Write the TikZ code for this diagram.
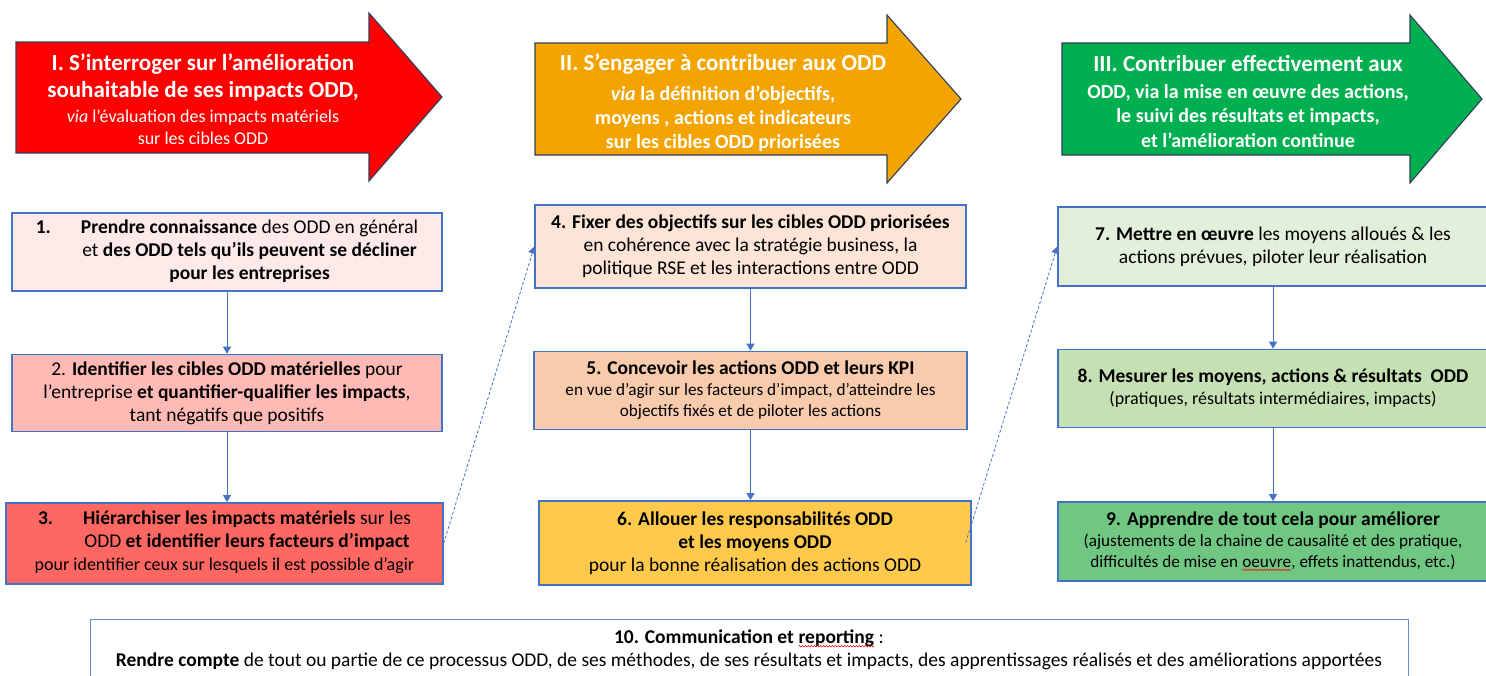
\documentclass[tikz,border=0pt]{standalone}
\usepackage{fontspec}
\setmainfont{Carlito}
\usepackage{tikz}
\usetikzlibrary{arrows.meta, positioning, decorations.pathmorphing}
\definecolor{colBlue}{RGB}{68,114,196}
\definecolor{colEdge}{RGB}{47,62,92}
\definecolor{colRed}{RGB}{255,0,0}
\definecolor{colOrange}{RGB}{243,164,0}
\definecolor{colGreen}{RGB}{0,176,80}
\definecolor{colStepA}{RGB}{253,233,232}
\definecolor{colStepB}{RGB}{255,186,181}
\definecolor{colStepC}{RGB}{255,104,98}
\definecolor{colStepD}{RGB}{252,228,214}
\definecolor{colStepE}{RGB}{248,203,173}
\definecolor{colStepF}{RGB}{255,202,76}
\definecolor{colStepG}{RGB}{226,239,218}
\definecolor{colStepH}{RGB}{197,224,179}
\definecolor{colStepI}{RGB}{111,199,130}
\newcommand\spellmark[1]{\tikz[baseline=(w.base)]{\node[inner sep=0pt, outer sep=0pt,
  minimum width=0pt, minimum height=0pt, draw=none, fill=none] (w) {#1};
  \draw[red, line width=0.5pt, decorate, decoration={snake, amplitude=0.8pt, segment length=3pt}]
  ([yshift=-2.5pt]w.base west) -- ([yshift=-2.5pt]w.base east);}}

\begin{document}
\begin{tikzpicture}[
  x=1pt, y=-1pt,
  box/.style={rectangle, draw=colBlue, line width=1.4pt, minimum width=430pt,
              minimum height=79pt, inner sep=0pt, align=center,
              font=\fontsize{19.5}{23}\selectfont},
  small/.style={font=\fontsize{17.2}{21}\selectfont},
  phase/.style={draw=colEdge, line width=1.1pt},
  phasetxt/.style={text=white, align=center, inner sep=0pt},
  arr/.style={-{Triangle[width=8pt,length=7pt]}, colBlue, line width=0.9pt},
  jump/.style={arr, dash pattern=on 3pt off 2pt, line width=0.8pt},
]
\useasboundingbox (0,0) rectangle (1486,675);
\clip (0,0) rectangle (1486,675);

% Phase arrows
\filldraw[phase, fill=colRed] (16,42) -- (369,42) -- (369,13) -- (442,97)
  -- (369,181) -- (369,153) -- (16,153) -- cycle;
\filldraw[phase, fill=colOrange] (535,43) -- (887,43) -- (887,15) -- (961,99)
  -- (887,183) -- (887,155) -- (535,155) -- cycle;
\filldraw[phase, fill=colGreen] (1062,43) -- (1410,43) -- (1410,15) -- (1482,99)
  -- (1410,183) -- (1410,155) -- (1062,155) -- cycle;

\node[phasetxt, font=\fontsize{18}{22}\selectfont] (phaseI) at (203,99)
  {{\fontsize{23}{22}\selectfont\bfseries I. S'interroger sur l'amélioration}\\[5pt]
   {\fontsize{23}{22}\selectfont\bfseries souhaitable de ses impacts ODD,}\\[3pt]
   \textit{via} l'évaluation des impacts matériels\\
   sur les cibles ODD};
\node[phasetxt, font=\fontsize{20}{24}\selectfont\bfseries] (phaseII) at (723,103)
  {{\fontsize{23}{24}\selectfont II. S'engager à contribuer aux ODD}\\[6pt]
   \textit{via} la définition d'objectifs,\\
   moyens , actions et indicateurs\\
   sur les cibles ODD priorisées};
\node[phasetxt, font=\fontsize{20}{24.5}\selectfont\bfseries] (phaseIII) at (1248,101)
  {{\fontsize{23}{24}\selectfont III. Contribuer effectivement aux}\\[2.5pt]
   ODD, via la mise en œuvre des actions,\\
   le suivi des résultats et impacts,\\
   et l'amélioration continue};

% Column I
\node[box, fill=colStepA, minimum height=78pt] (step1) at (227,252)
  {\begin{tabular}{@{}l@{\hspace{30pt}}c@{}}
   \textbf{1.} & \textbf{Prendre connaissance} des ODD en général\\
   & et \textbf{des ODD tels qu'ils peuvent se décliner}\\
   & \textbf{pour les entreprises}
   \end{tabular}};
\node[box, fill=colStepB, minimum height=77pt, below=62pt of step1] (step2)
  {2. \textbf{Identifier les cibles ODD matérielles} pour\\
   l'entreprise \textbf{et quantifier-qualifier les impacts},\\
   tant négatifs que positifs};
\node[box, fill=colStepC, minimum width=437pt, minimum height=81pt,
      below=70pt of step2, xshift=-2.5pt] (step3)
  {\begin{tabular}{@{}c@{}}
   \begin{tabular}[b]{@{}l@{\hspace{30pt}}c@{}}
   \textbf{3.} & \textbf{Hiérarchiser les impacts matériels} sur les\\
   & ODD \textbf{et identifier leurs facteurs d'impact}
   \end{tabular}\\
   \fontsize{18}{23}\selectfont pour identifier ceux sur lesquels il est possible d'agir
   \end{tabular}};

% Column II
\node[box, fill=colStepD, minimum width=431pt, minimum height=83pt] (step4) at (750.5,246.5)
  {\textbf{4. Fixer des objectifs sur les cibles ODD priorisées}\\
   en cohérence avec la stratégie business, la\\
   politique RSE et les interactions entre ODD};
\node[box, small, fill=colStepE, minimum width=433pt, minimum height=78pt,
      below=62pt of step4] (step5)
  {{\fontsize{19.5}{21}\selectfont\bfseries 5. Concevoir les actions ODD et leurs KPI}\\
   en vue d'agir sur les facteurs d'impact, d'atteindre les\\
   objectifs fixés et de piloter les actions};
\node[box, fill=colStepF, minimum width=432pt, minimum height=84pt,
      below=70pt of step5, xshift=4.5pt] (step6)
  {\textbf{6. Allouer les responsabilités ODD}\\
   \textbf{et les moyens ODD}\\
   pour la bonne réalisation des actions ODD};

% Column III
\node[box, fill=colStepG] (step7) at (1273,246.5)
  {\textbf{7. Mettre en œuvre} les moyens alloués \& les\\
   actions prévues, piloter leur réalisation};
\node[box, font=\fontsize{18}{22}\selectfont, fill=colStepH, minimum height=78pt,
      below=62pt of step7] (step8)
  {{\fontsize{19.5}{22}\selectfont\bfseries 8. Mesurer les moyens, actions \& résultats\ \ ODD}\\
   (pratiques, résultats intermédiaires, impacts)};
\node[box, small, fill=colStepI, below=73pt of step8] (step9)
  {{\fontsize{19.5}{21}\selectfont\bfseries 9. Apprendre de tout cela pour améliorer}\\
   (ajustements de la chaine de causalité et des pratique,\\
   difficultés de mise en \spellmark{oeuvre}, effets inattendus, etc.)};

% Reporting
\node[box, draw=colBlue!80, line width=1pt, fill=white, minimum width=1318pt,
      minimum height=61pt, anchor=north] (step10) at (749,619)
  {\textbf{10. Communication et \spellmark{reporting}} :\\
   \textbf{Rendre compte} de tout ou partie de ce processus ODD, de ses méthodes, de ses résultats et impacts, des apprentissages réalisés et des améliorations apportées};

% Links
\draw[arr] (step1) -- (step2);
\draw[arr] (step2) -- (step2.south |- step3.north);
\draw[arr] (step4) -- (step5);
\draw[arr] (step5) -- (step5.south |- step6.north);
\draw[arr] (step7) -- (step8);
\draw[arr] (step8) -- (step9);
\draw[jump] (step3.east) -- (step4.west);
\draw[jump] ([xshift=-6pt]step6.east) -- (step7.west);

\end{tikzpicture}
\end{document}
